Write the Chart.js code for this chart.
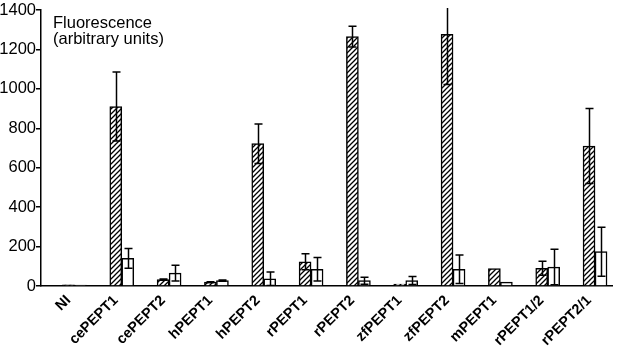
<!DOCTYPE html>
<html>
  <head>
    <meta charset="utf-8" />
    <title>Fluorescence per transporter</title>
    <style>
        html, body {
            width: 100%;
            height: 100%;
            margin: 0;
            padding: 0;
            overflow: hidden;
            background: #fff;
        }
        #wrap { width: 631px; height: 353px; }
    </style>
  </head>
  <body>
    <script src="https://cdn.jsdelivr.net/npm/chart.js@4/dist/chart.umd.min.js"></script>
    <div id="wrap"><canvas id="chart"></canvas></div>

    <script>
        const labels = ["NI", "cePEPT1", "cePEPT2", "hPEPT1", "hPEPT2", "rPEPT1", "rPEPT2",
                        "zfPEPT1", "zfPEPT2", "mPEPT1", "rPEPT1/2", "rPEPT2/1"];
        const blackValues   = [1, 1, 1, 1, 1, 2, 2, 2, 2, 1, 1, 1];
        const hatchedValues = [6, 910, 32, 20, 722, 123, 1265, 10, 1277, 88, 90, 710];
        const hatchedErrors = [0, 175, 3, 2, 100, 40, 53, 0, 255, 0, 35, 190];
        const whiteValues   = [5, 140, 65, 27, 37, 85, 27, 28, 85, 20, 96, 174];
        const whiteErrors   = [0, 50, 40, 3, 34, 60, 18, 20, 72, 0, 90, 124];
        const yTicks = [0, 200, 400, 600, 800, 1000, 1200, 1400];
        const titleLines = ["Fluorescence", "(arbitrary units)"];

        const font = "'Liberation Sans', Arial, Helvetica, sans-serif";
        const canvas = document.getElementById("chart");

        // diagonal "////" fill for the middle bars
        const makeHatch = () => {
          const c = document.createElement("canvas");
          c.width = 5; c.height = 5;
          const g = c.getContext("2d");
          g.fillStyle = "#fff";
          g.fillRect(0, 0, 5, 5);
          g.strokeStyle = "#000";
          g.lineWidth = 1.3;
          g.beginPath();
          g.moveTo(-1, 6); g.lineTo(6, -1);
          g.moveTo(-1, 1); g.lineTo(1, -1);
          g.moveTo(4, 6); g.lineTo(6, 4);
          g.stroke();
          return canvas.getContext("2d").createPattern(c, "repeat");
        };

        const toPoints = (vals) => vals.map((v, i) => ({ x: i, y: v }));

        const innerTitle = {
          id: "innerTitle",
          afterDraw(chart) {
            const ctx = chart.ctx, a = chart.chartArea;
            ctx.save();
            ctx.font = "16.5px " + font;
            ctx.fillStyle = "#000";
            ctx.textBaseline = "alphabetic";
            ctx.fillText(titleLines[0], a.left + 12, a.top + 17.5);
            ctx.fillText(titleLines[1], a.left + 12, a.top + 34);
            ctx.restore();
          }
        };

        const errorBars = {
          id: "errorBars",
          afterDatasetsDraw(chart) {
            const ctx = chart.ctx, y = chart.scales.y, a = chart.chartArea;
            ctx.save();
            ctx.beginPath();
            ctx.rect(a.left, a.top - 2, a.right - a.left, a.bottom - a.top + 2);
            ctx.clip();
            ctx.strokeStyle = "#000";
            ctx.lineWidth = 1.5;
            chart.data.datasets.forEach((ds, d) => {
              if (!ds.errors) return;
              chart.getDatasetMeta(d).data.forEach((bar, i) => {
                const e = ds.errors[i];
                if (!e) return;
                const v = ds.data[i].y;
                const top = y.getPixelForValue(v + e);
                const bot = y.getPixelForValue(Math.max(v - e, 0));
                const x = Math.round(bar.x) + 0.5;
                ctx.beginPath();
                ctx.moveTo(x, top); ctx.lineTo(x, bot);
                ctx.moveTo(x - 4, top); ctx.lineTo(x + 4, top);
                ctx.moveTo(x - 4, bot); ctx.lineTo(x + 4, bot);
                ctx.stroke();
              });
            });
            ctx.restore();
          }
        };

        const barStyle = { barThickness: 12, borderColor: "#000", borderWidth: 1.5 };

        const chart = new Chart(canvas, {
          type: "bar",
          data: {
            datasets: [
              Object.assign({ data: toPoints(blackValues), backgroundColor: "#000", borderWidth: 1 }, { barThickness: 12, borderColor: "#000" }),
              Object.assign({ data: toPoints(hatchedValues), errors: hatchedErrors, backgroundColor: makeHatch() }, barStyle),
              Object.assign({ data: toPoints(whiteValues), errors: whiteErrors, backgroundColor: "#fff" }, barStyle)
            ]
          },
          options: {
            responsive: true,
            maintainAspectRatio: false,
            animation: false,
            layout: { padding: { top: 10, right: 3, left: 0, bottom: 0 } },
            plugins: { legend: { display: false }, tooltip: { enabled: false } },
            scales: {
              x: {
                type: "linear",
                min: -0.58,
                max: 11.5,
                offset: false,
                grid: { display: false, drawTicks: false },
                border: { color: "#000", width: 1.5 },
                ticks: {
                  stepSize: 1,
                  autoSkip: false,
                  minRotation: 45,
                  maxRotation: 45,
                  padding: 6,
                  color: "#000",
                  font: { family: font, size: 14.5, weight: "bold" },
                  callback: (v) => Number.isInteger(v) ? labels[v] : ""
                },
                afterFit: (s) => { s.height = 67; }
              },
              y: {
                min: yTicks[0],
                max: yTicks[yTicks.length - 1],
                grid: { drawOnChartArea: false, drawTicks: true, tickLength: 5, color: "#000", lineWidth: 1.5 },
                border: { color: "#000", width: 1.5 },
                ticks: {
                  stepSize: yTicks[1] - yTicks[0],
                  padding: 0,
                  color: "#000",
                  font: { family: font, size: 16.5 },
                  callback: (v) => String(v)
                },
                afterFit: (s) => { s.width = 41; }
              }
            }
          },
          plugins: [innerTitle, errorBars]
        });
    </script>
  </body>
</html>
